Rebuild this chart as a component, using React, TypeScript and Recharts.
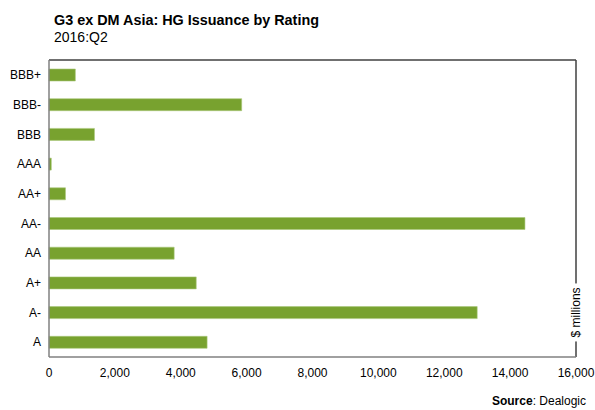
import { BarChart, Bar, XAxis, YAxis, ReferenceLine } from "recharts";

const ratings = ["BBB+", "BBB-", "BBB", "AAA", "AA+", "AA-", "AA", "A+", "A-", "A"];
const issuance = [800, 5850, 1380, 70, 500, 14450, 3800, 4470, 13000, 4800];
const xTicks = [0, 2000, 4000, 6000, 8000, 10000, 12000, 14000, 16000];

const data = ratings.map((rating, i) => ({ rating, value: issuance[i] }));

const FONT = "Arial, 'Liberation Sans', sans-serif";

const UnitsLabel = ({ viewBox }: any) => {
    const x = viewBox.x;
    const cy = viewBox.y + viewBox.height * 0.85;
    return (
        <g>
            <rect x={x - 8} y={cy - 29} width={16} height={58} fill="#fff" />
            <text
                x={x}
                y={cy}
                transform={`rotate(-90 ${x} ${cy})`}
                textAnchor="middle"
                dominantBaseline="central"
                fontSize={12}
                fontFamily={FONT}
                fill="#000"
            >
                $ millions
            </text>
        </g>
    );
};

export default function App() {
    return (
        <div style={{ position: "absolute", left: 0, top: 0, width: 595, height: 410, background: "#fff", fontFamily: FONT }}>
            <div style={{ position: "absolute", left: 54, top: 12, fontSize: 14.4, fontWeight: "bold", color: "#000" }}>
                G3 ex DM Asia: HG Issuance by Rating
            </div>
            <div style={{ position: "absolute", left: 54, top: 29, fontSize: 14, color: "#000" }}>2016:Q2</div>
            <BarChart
                width={595}
                height={410}
                data={data}
                layout="vertical"
                margin={{ top: 59, right: 19, bottom: 0, left: 0 }}
                barCategoryGap="30%"
            >
                <XAxis
                    type="number"
                    domain={[0, 16000]}
                    ticks={xTicks}
                    tickFormatter={(v: number) => v.toLocaleString("en-US")}
                    tickLine={false}
                    axisLine={{ stroke: "#808080", strokeWidth: 1.5 }}
                    tick={{ fill: "#000", fontSize: 12, fontFamily: FONT, dy: 3 }}
                    height={53}
                    interval={0}
                />
                <XAxis
                    xAxisId="top"
                    orientation="top"
                    type="number"
                    domain={[0, 16000]}
                    tick={false}
                    tickLine={false}
                    height={1}
                    axisLine={{ stroke: "#404040", strokeWidth: 1.5 }}
                />
                <YAxis
                    type="category"
                    dataKey="rating"
                    width={49}
                    tickLine={false}
                    axisLine={{ stroke: "#808080", strokeWidth: 1.5 }}
                    tick={{ fill: "#000", fontSize: 12, fontFamily: FONT }}
                    interval={0}
                />
                <ReferenceLine
                    x={16000}
                    stroke="#404040"
                    strokeWidth={1.5}
                    label={<UnitsLabel />}
                />
                <Bar dataKey="value" fill="#78a22f" stroke="#a9c77a" strokeWidth={0.6} barSize={12} isAnimationActive={false} />
            </BarChart>
            <div style={{ position: "absolute", right: 9, top: 394, fontSize: 12, color: "#000" }}>
                <b>Source</b>: Dealogic
            </div>
        </div>
    );
}
